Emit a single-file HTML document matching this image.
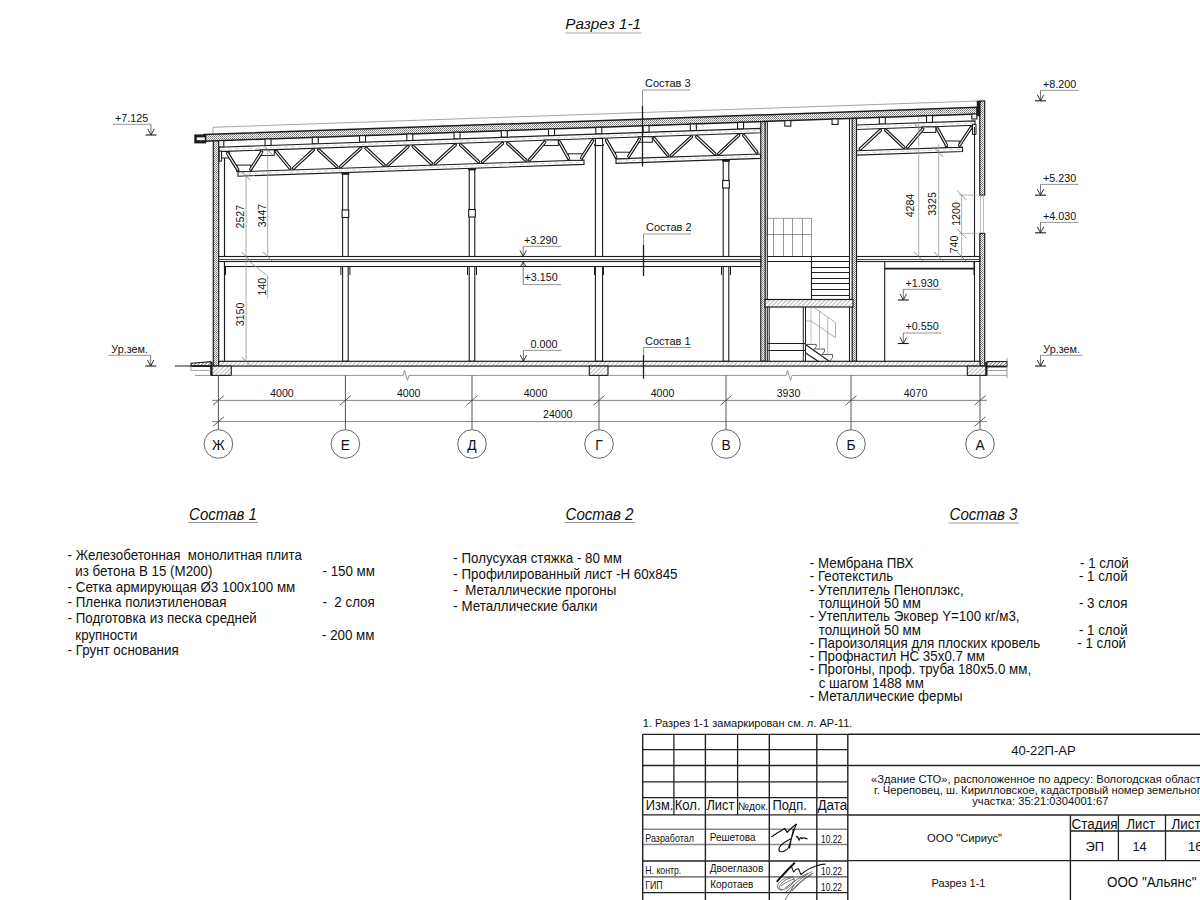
<!DOCTYPE html>
<html><head><meta charset="utf-8"><title>Разрез 1-1</title>
<style>html,body{margin:0;padding:0;background:#fff;} body{width:1200px;height:900px;overflow:hidden;font-family:"Liberation Sans",sans-serif;} svg{display:block;} svg text{font-family:"Liberation Sans",sans-serif;}</style>
</head><body><svg width="1200" height="900" viewBox="0 0 1200 900"  shape-rendering="geometricPrecision"><defs>
<pattern id="dots" width="2" height="2" patternUnits="userSpaceOnUse"><rect width="2" height="2" fill="#fff"/><rect width="1" height="1" fill="#777"/><rect x="1" y="1" width="1" height="1" fill="#999"/></pattern>
<pattern id="hatchd" width="2.5" height="2.5" patternUnits="userSpaceOnUse" patternTransform="rotate(45)"><rect width="2.5" height="2.5" fill="#fff"/><line x1="0" y1="0" x2="0" y2="2.5" stroke="#333" stroke-width="1.2"/></pattern>
<pattern id="hatch" width="3" height="3" patternUnits="userSpaceOnUse" patternTransform="rotate(45)"><rect width="3" height="3" fill="#fff"/><line x1="0" y1="0" x2="0" y2="3" stroke="#777" stroke-width="1"/></pattern>
</defs><text x="0" y="0" font-size="15.3" text-anchor="start" fill="#111" transform="translate(565.30,29.30) scale(1,1.0)" font-style="italic">Разрез 1-1</text>
<line x1="565.00" y1="33.00" x2="641.50" y2="33.00" stroke="#aaa" stroke-width="1.2" />
<line x1="213.00" y1="127.30" x2="977.00" y2="101.02" stroke="#999" stroke-width="0.9" />
<line x1="213.00" y1="127.30" x2="213.00" y2="134.29" stroke="#999" stroke-width="0.9" />
<polygon points="204.00,134.60 977.00,107.37 977.00,113.97 204.00,141.20" fill="url(#dots)" stroke="#1c1c1c" stroke-width="1.5" />
<rect x="194.30" y="134.40" width="12.00" height="9.00" fill="#1c1c1c" stroke="none" stroke-width="0" />
<rect x="196.80" y="137.40" width="8.00" height="2.80" fill="#fff" stroke="none" stroke-width="0" />
<rect x="217.80" y="140.61" width="6.00" height="6.51" fill="#fff" stroke="#1c1c1c" stroke-width="1.1" />
<rect x="265.05" y="138.95" width="6.00" height="6.54" fill="#fff" stroke="#1c1c1c" stroke-width="1.1" />
<rect x="312.30" y="137.28" width="6.00" height="6.56" fill="#fff" stroke="#1c1c1c" stroke-width="1.1" />
<rect x="359.55" y="135.62" width="6.00" height="6.58" fill="#fff" stroke="#1c1c1c" stroke-width="1.1" />
<rect x="406.80" y="133.95" width="6.00" height="6.61" fill="#fff" stroke="#1c1c1c" stroke-width="1.1" />
<rect x="454.05" y="132.29" width="6.00" height="6.63" fill="#fff" stroke="#1c1c1c" stroke-width="1.1" />
<rect x="501.30" y="130.63" width="6.00" height="6.65" fill="#fff" stroke="#1c1c1c" stroke-width="1.1" />
<rect x="548.55" y="128.96" width="6.00" height="6.68" fill="#fff" stroke="#1c1c1c" stroke-width="1.1" />
<rect x="595.80" y="127.30" width="6.00" height="6.70" fill="#fff" stroke="#1c1c1c" stroke-width="1.1" />
<rect x="643.05" y="125.63" width="6.00" height="6.72" fill="#fff" stroke="#1c1c1c" stroke-width="1.1" />
<rect x="690.30" y="123.97" width="6.00" height="6.75" fill="#fff" stroke="#1c1c1c" stroke-width="1.1" />
<rect x="737.55" y="122.30" width="6.00" height="6.77" fill="#fff" stroke="#1c1c1c" stroke-width="1.1" />
<rect x="784.80" y="120.64" width="6.00" height="5.50" fill="#fff" stroke="#1c1c1c" stroke-width="1.1" />
<rect x="832.05" y="118.97" width="6.00" height="5.50" fill="#fff" stroke="#1c1c1c" stroke-width="1.1" />
<rect x="879.30" y="117.31" width="6.00" height="6.84" fill="#fff" stroke="#1c1c1c" stroke-width="1.1" />
<rect x="926.55" y="115.64" width="6.00" height="6.86" fill="#fff" stroke="#1c1c1c" stroke-width="1.1" />
<rect x="971.80" y="113.98" width="5.00" height="5.00" fill="#fff" stroke="#1c1c1c" stroke-width="1.1" />
<polygon points="219.00,147.19 760.50,128.38 760.50,132.78 219.00,151.59" fill="#fff" stroke="#1c1c1c" stroke-width="1.1" />
<line x1="221.00" y1="149.32" x2="758.50" y2="130.65" stroke="#bbb" stroke-width="0.6" stroke-dasharray="4 3"/>
<polygon points="856.50,125.04 975.00,120.93 975.00,125.33 856.50,129.44" fill="#fff" stroke="#1c1c1c" stroke-width="1.1" />
<line x1="858.50" y1="127.17" x2="973.00" y2="123.20" stroke="#bbb" stroke-width="0.6" stroke-dasharray="4 3"/>
<polygon points="238.00,171.78 584.00,160.01 584.00,164.41 238.00,176.18" fill="#fff" stroke="#1c1c1c" stroke-width="1.1" />
<line x1="240.00" y1="173.91" x2="582.00" y2="162.28" stroke="#bbb" stroke-width="0.6" stroke-dasharray="4 3"/>
<polygon points="616.00,158.92 760.50,154.01 760.50,158.41 616.00,163.32" fill="#fff" stroke="#1c1c1c" stroke-width="1.1" />
<line x1="618.00" y1="161.06" x2="758.50" y2="156.28" stroke="#bbb" stroke-width="0.6" stroke-dasharray="4 3"/>
<polygon points="856.50,150.75 962.50,147.14 962.50,151.54 856.50,155.15" fill="#fff" stroke="#1c1c1c" stroke-width="1.1" />
<line x1="858.50" y1="152.88" x2="960.50" y2="149.41" stroke="#bbb" stroke-width="0.6" stroke-dasharray="4 3"/>
<line x1="227.47" y1="153.42" x2="237.83" y2="169.71" stroke="#1c1c1c" stroke-width="3.1" stroke-linecap="round"/>
<line x1="227.47" y1="153.42" x2="237.83" y2="169.71" stroke="#f4f4f4" stroke-width="1.1" stroke-linecap="round"/>
<line x1="250.65" y1="169.29" x2="261.70" y2="152.16" stroke="#1c1c1c" stroke-width="3.1" stroke-linecap="round"/>
<line x1="250.65" y1="169.29" x2="261.70" y2="152.16" stroke="#f4f4f4" stroke-width="1.1" stroke-linecap="round"/>
<line x1="276.24" y1="151.56" x2="289.86" y2="168.11" stroke="#1c1c1c" stroke-width="3.1" stroke-linecap="round"/>
<line x1="276.24" y1="151.56" x2="289.86" y2="168.11" stroke="#f4f4f4" stroke-width="1.1" stroke-linecap="round"/>
<line x1="293.40" y1="168.27" x2="313.45" y2="149.93" stroke="#1c1c1c" stroke-width="3.1" stroke-linecap="round"/>
<line x1="293.40" y1="168.27" x2="313.45" y2="149.93" stroke="#f4f4f4" stroke-width="1.1" stroke-linecap="round"/>
<line x1="318.70" y1="149.87" x2="336.90" y2="166.72" stroke="#1c1c1c" stroke-width="3.1" stroke-linecap="round"/>
<line x1="318.70" y1="149.87" x2="336.90" y2="166.72" stroke="#f4f4f4" stroke-width="1.1" stroke-linecap="round"/>
<line x1="340.64" y1="166.66" x2="360.71" y2="148.29" stroke="#1c1c1c" stroke-width="3.1" stroke-linecap="round"/>
<line x1="340.64" y1="166.66" x2="360.71" y2="148.29" stroke="#f4f4f4" stroke-width="1.1" stroke-linecap="round"/>
<line x1="365.95" y1="148.23" x2="384.15" y2="165.12" stroke="#1c1c1c" stroke-width="3.1" stroke-linecap="round"/>
<line x1="365.95" y1="148.23" x2="384.15" y2="165.12" stroke="#f4f4f4" stroke-width="1.1" stroke-linecap="round"/>
<line x1="387.89" y1="165.05" x2="407.96" y2="146.65" stroke="#1c1c1c" stroke-width="3.1" stroke-linecap="round"/>
<line x1="387.89" y1="165.05" x2="407.96" y2="146.65" stroke="#f4f4f4" stroke-width="1.1" stroke-linecap="round"/>
<line x1="413.20" y1="146.59" x2="431.40" y2="163.51" stroke="#1c1c1c" stroke-width="3.1" stroke-linecap="round"/>
<line x1="413.20" y1="146.59" x2="431.40" y2="163.51" stroke="#f4f4f4" stroke-width="1.1" stroke-linecap="round"/>
<line x1="435.14" y1="163.44" x2="455.21" y2="145.01" stroke="#1c1c1c" stroke-width="3.1" stroke-linecap="round"/>
<line x1="435.14" y1="163.44" x2="455.21" y2="145.01" stroke="#f4f4f4" stroke-width="1.1" stroke-linecap="round"/>
<line x1="460.45" y1="144.95" x2="478.65" y2="161.90" stroke="#1c1c1c" stroke-width="3.1" stroke-linecap="round"/>
<line x1="460.45" y1="144.95" x2="478.65" y2="161.90" stroke="#f4f4f4" stroke-width="1.1" stroke-linecap="round"/>
<line x1="482.39" y1="161.84" x2="502.46" y2="143.37" stroke="#1c1c1c" stroke-width="3.1" stroke-linecap="round"/>
<line x1="482.39" y1="161.84" x2="502.46" y2="143.37" stroke="#f4f4f4" stroke-width="1.1" stroke-linecap="round"/>
<line x1="507.69" y1="143.31" x2="525.91" y2="160.29" stroke="#1c1c1c" stroke-width="3.1" stroke-linecap="round"/>
<line x1="507.69" y1="143.31" x2="525.91" y2="160.29" stroke="#f4f4f4" stroke-width="1.1" stroke-linecap="round"/>
<line x1="529.43" y1="160.03" x2="544.92" y2="142.10" stroke="#1c1c1c" stroke-width="3.1" stroke-linecap="round"/>
<line x1="529.43" y1="160.03" x2="544.92" y2="142.10" stroke="#f4f4f4" stroke-width="1.1" stroke-linecap="round"/>
<line x1="559.42" y1="141.95" x2="568.68" y2="158.39" stroke="#1c1c1c" stroke-width="3.1" stroke-linecap="round"/>
<line x1="559.42" y1="141.95" x2="568.68" y2="158.39" stroke="#f4f4f4" stroke-width="1.1" stroke-linecap="round"/>
<line x1="581.41" y1="158.05" x2="592.64" y2="140.66" stroke="#1c1c1c" stroke-width="3.1" stroke-linecap="round"/>
<line x1="581.41" y1="158.05" x2="592.64" y2="140.66" stroke="#f4f4f4" stroke-width="1.1" stroke-linecap="round"/>
<line x1="606.39" y1="140.31" x2="615.91" y2="156.80" stroke="#1c1c1c" stroke-width="3.1" stroke-linecap="round"/>
<line x1="606.39" y1="140.31" x2="615.91" y2="156.80" stroke="#f4f4f4" stroke-width="1.1" stroke-linecap="round"/>
<line x1="628.64" y1="156.43" x2="639.71" y2="139.04" stroke="#1c1c1c" stroke-width="3.1" stroke-linecap="round"/>
<line x1="628.64" y1="156.43" x2="639.71" y2="139.04" stroke="#f4f4f4" stroke-width="1.1" stroke-linecap="round"/>
<line x1="654.22" y1="138.44" x2="667.88" y2="155.25" stroke="#1c1c1c" stroke-width="3.1" stroke-linecap="round"/>
<line x1="654.22" y1="138.44" x2="667.88" y2="155.25" stroke="#f4f4f4" stroke-width="1.1" stroke-linecap="round"/>
<line x1="671.38" y1="155.40" x2="691.47" y2="136.81" stroke="#1c1c1c" stroke-width="3.1" stroke-linecap="round"/>
<line x1="671.38" y1="155.40" x2="691.47" y2="136.81" stroke="#f4f4f4" stroke-width="1.1" stroke-linecap="round"/>
<line x1="696.69" y1="136.75" x2="714.91" y2="153.86" stroke="#1c1c1c" stroke-width="3.1" stroke-linecap="round"/>
<line x1="696.69" y1="136.75" x2="714.91" y2="153.86" stroke="#f4f4f4" stroke-width="1.1" stroke-linecap="round"/>
<line x1="718.63" y1="153.80" x2="738.72" y2="135.17" stroke="#1c1c1c" stroke-width="3.1" stroke-linecap="round"/>
<line x1="718.63" y1="153.80" x2="738.72" y2="135.17" stroke="#f4f4f4" stroke-width="1.1" stroke-linecap="round"/>
<line x1="743.69" y1="135.36" x2="756.86" y2="152.19" stroke="#1c1c1c" stroke-width="3.1" stroke-linecap="round"/>
<line x1="743.69" y1="135.36" x2="756.86" y2="152.19" stroke="#f4f4f4" stroke-width="1.1" stroke-linecap="round"/>
<line x1="860.33" y1="148.98" x2="880.47" y2="130.25" stroke="#1c1c1c" stroke-width="3.1" stroke-linecap="round"/>
<line x1="860.33" y1="148.98" x2="880.47" y2="130.25" stroke="#f4f4f4" stroke-width="1.1" stroke-linecap="round"/>
<line x1="885.68" y1="130.19" x2="903.92" y2="147.43" stroke="#1c1c1c" stroke-width="3.1" stroke-linecap="round"/>
<line x1="885.68" y1="130.19" x2="903.92" y2="147.43" stroke="#f4f4f4" stroke-width="1.1" stroke-linecap="round"/>
<line x1="907.42" y1="147.17" x2="922.93" y2="128.98" stroke="#1c1c1c" stroke-width="3.1" stroke-linecap="round"/>
<line x1="907.42" y1="147.17" x2="922.93" y2="128.98" stroke="#f4f4f4" stroke-width="1.1" stroke-linecap="round"/>
<line x1="937.41" y1="128.83" x2="946.69" y2="145.53" stroke="#1c1c1c" stroke-width="3.1" stroke-linecap="round"/>
<line x1="937.41" y1="128.83" x2="946.69" y2="145.53" stroke="#f4f4f4" stroke-width="1.1" stroke-linecap="round"/>
<line x1="959.43" y1="145.21" x2="971.12" y2="127.50" stroke="#1c1c1c" stroke-width="3.1" stroke-linecap="round"/>
<line x1="959.43" y1="145.21" x2="971.12" y2="127.50" stroke="#f4f4f4" stroke-width="1.1" stroke-linecap="round"/>
<rect x="236.80" y="165.08" width="14.00" height="6.50" fill="#fff" stroke="#1c1c1c" stroke-width="1.0" />
<rect x="260.30" y="149.91" width="14.00" height="5.50" fill="#fff" stroke="#1c1c1c" stroke-width="1.0" />
<rect x="544.30" y="140.05" width="14.00" height="5.50" fill="#fff" stroke="#1c1c1c" stroke-width="1.0" />
<rect x="568.30" y="153.81" width="14.00" height="6.50" fill="#fff" stroke="#1c1c1c" stroke-width="1.0" />
<rect x="615.30" y="152.21" width="14.00" height="6.50" fill="#fff" stroke="#1c1c1c" stroke-width="1.0" />
<rect x="638.30" y="136.78" width="14.00" height="5.50" fill="#fff" stroke="#1c1c1c" stroke-width="1.0" />
<rect x="921.80" y="126.93" width="14.00" height="5.50" fill="#fff" stroke="#1c1c1c" stroke-width="1.0" />
<rect x="945.30" y="140.99" width="14.00" height="6.50" fill="#fff" stroke="#1c1c1c" stroke-width="1.0" />
<line x1="227.47" y1="153.42" x2="237.83" y2="169.71" stroke="#1c1c1c" stroke-width="3.1" stroke-linecap="round"/>
<line x1="227.47" y1="153.42" x2="237.83" y2="169.71" stroke="#f4f4f4" stroke-width="1.1" stroke-linecap="round"/>
<line x1="250.65" y1="169.29" x2="261.70" y2="152.16" stroke="#1c1c1c" stroke-width="3.1" stroke-linecap="round"/>
<line x1="250.65" y1="169.29" x2="261.70" y2="152.16" stroke="#f4f4f4" stroke-width="1.1" stroke-linecap="round"/>
<line x1="276.24" y1="151.56" x2="289.86" y2="168.11" stroke="#1c1c1c" stroke-width="3.1" stroke-linecap="round"/>
<line x1="276.24" y1="151.56" x2="289.86" y2="168.11" stroke="#f4f4f4" stroke-width="1.1" stroke-linecap="round"/>
<line x1="293.40" y1="168.27" x2="313.45" y2="149.93" stroke="#1c1c1c" stroke-width="3.1" stroke-linecap="round"/>
<line x1="293.40" y1="168.27" x2="313.45" y2="149.93" stroke="#f4f4f4" stroke-width="1.1" stroke-linecap="round"/>
<line x1="318.70" y1="149.87" x2="336.90" y2="166.72" stroke="#1c1c1c" stroke-width="3.1" stroke-linecap="round"/>
<line x1="318.70" y1="149.87" x2="336.90" y2="166.72" stroke="#f4f4f4" stroke-width="1.1" stroke-linecap="round"/>
<line x1="340.64" y1="166.66" x2="360.71" y2="148.29" stroke="#1c1c1c" stroke-width="3.1" stroke-linecap="round"/>
<line x1="340.64" y1="166.66" x2="360.71" y2="148.29" stroke="#f4f4f4" stroke-width="1.1" stroke-linecap="round"/>
<line x1="365.95" y1="148.23" x2="384.15" y2="165.12" stroke="#1c1c1c" stroke-width="3.1" stroke-linecap="round"/>
<line x1="365.95" y1="148.23" x2="384.15" y2="165.12" stroke="#f4f4f4" stroke-width="1.1" stroke-linecap="round"/>
<line x1="387.89" y1="165.05" x2="407.96" y2="146.65" stroke="#1c1c1c" stroke-width="3.1" stroke-linecap="round"/>
<line x1="387.89" y1="165.05" x2="407.96" y2="146.65" stroke="#f4f4f4" stroke-width="1.1" stroke-linecap="round"/>
<line x1="413.20" y1="146.59" x2="431.40" y2="163.51" stroke="#1c1c1c" stroke-width="3.1" stroke-linecap="round"/>
<line x1="413.20" y1="146.59" x2="431.40" y2="163.51" stroke="#f4f4f4" stroke-width="1.1" stroke-linecap="round"/>
<line x1="435.14" y1="163.44" x2="455.21" y2="145.01" stroke="#1c1c1c" stroke-width="3.1" stroke-linecap="round"/>
<line x1="435.14" y1="163.44" x2="455.21" y2="145.01" stroke="#f4f4f4" stroke-width="1.1" stroke-linecap="round"/>
<line x1="460.45" y1="144.95" x2="478.65" y2="161.90" stroke="#1c1c1c" stroke-width="3.1" stroke-linecap="round"/>
<line x1="460.45" y1="144.95" x2="478.65" y2="161.90" stroke="#f4f4f4" stroke-width="1.1" stroke-linecap="round"/>
<line x1="482.39" y1="161.84" x2="502.46" y2="143.37" stroke="#1c1c1c" stroke-width="3.1" stroke-linecap="round"/>
<line x1="482.39" y1="161.84" x2="502.46" y2="143.37" stroke="#f4f4f4" stroke-width="1.1" stroke-linecap="round"/>
<line x1="507.69" y1="143.31" x2="525.91" y2="160.29" stroke="#1c1c1c" stroke-width="3.1" stroke-linecap="round"/>
<line x1="507.69" y1="143.31" x2="525.91" y2="160.29" stroke="#f4f4f4" stroke-width="1.1" stroke-linecap="round"/>
<line x1="529.43" y1="160.03" x2="544.92" y2="142.10" stroke="#1c1c1c" stroke-width="3.1" stroke-linecap="round"/>
<line x1="529.43" y1="160.03" x2="544.92" y2="142.10" stroke="#f4f4f4" stroke-width="1.1" stroke-linecap="round"/>
<line x1="559.42" y1="141.95" x2="568.68" y2="158.39" stroke="#1c1c1c" stroke-width="3.1" stroke-linecap="round"/>
<line x1="559.42" y1="141.95" x2="568.68" y2="158.39" stroke="#f4f4f4" stroke-width="1.1" stroke-linecap="round"/>
<line x1="581.41" y1="158.05" x2="592.64" y2="140.66" stroke="#1c1c1c" stroke-width="3.1" stroke-linecap="round"/>
<line x1="581.41" y1="158.05" x2="592.64" y2="140.66" stroke="#f4f4f4" stroke-width="1.1" stroke-linecap="round"/>
<line x1="606.39" y1="140.31" x2="615.91" y2="156.80" stroke="#1c1c1c" stroke-width="3.1" stroke-linecap="round"/>
<line x1="606.39" y1="140.31" x2="615.91" y2="156.80" stroke="#f4f4f4" stroke-width="1.1" stroke-linecap="round"/>
<line x1="628.64" y1="156.43" x2="639.71" y2="139.04" stroke="#1c1c1c" stroke-width="3.1" stroke-linecap="round"/>
<line x1="628.64" y1="156.43" x2="639.71" y2="139.04" stroke="#f4f4f4" stroke-width="1.1" stroke-linecap="round"/>
<line x1="654.22" y1="138.44" x2="667.88" y2="155.25" stroke="#1c1c1c" stroke-width="3.1" stroke-linecap="round"/>
<line x1="654.22" y1="138.44" x2="667.88" y2="155.25" stroke="#f4f4f4" stroke-width="1.1" stroke-linecap="round"/>
<line x1="671.38" y1="155.40" x2="691.47" y2="136.81" stroke="#1c1c1c" stroke-width="3.1" stroke-linecap="round"/>
<line x1="671.38" y1="155.40" x2="691.47" y2="136.81" stroke="#f4f4f4" stroke-width="1.1" stroke-linecap="round"/>
<line x1="696.69" y1="136.75" x2="714.91" y2="153.86" stroke="#1c1c1c" stroke-width="3.1" stroke-linecap="round"/>
<line x1="696.69" y1="136.75" x2="714.91" y2="153.86" stroke="#f4f4f4" stroke-width="1.1" stroke-linecap="round"/>
<line x1="718.63" y1="153.80" x2="738.72" y2="135.17" stroke="#1c1c1c" stroke-width="3.1" stroke-linecap="round"/>
<line x1="718.63" y1="153.80" x2="738.72" y2="135.17" stroke="#f4f4f4" stroke-width="1.1" stroke-linecap="round"/>
<line x1="743.69" y1="135.36" x2="756.86" y2="152.19" stroke="#1c1c1c" stroke-width="3.1" stroke-linecap="round"/>
<line x1="743.69" y1="135.36" x2="756.86" y2="152.19" stroke="#f4f4f4" stroke-width="1.1" stroke-linecap="round"/>
<line x1="860.33" y1="148.98" x2="880.47" y2="130.25" stroke="#1c1c1c" stroke-width="3.1" stroke-linecap="round"/>
<line x1="860.33" y1="148.98" x2="880.47" y2="130.25" stroke="#f4f4f4" stroke-width="1.1" stroke-linecap="round"/>
<line x1="885.68" y1="130.19" x2="903.92" y2="147.43" stroke="#1c1c1c" stroke-width="3.1" stroke-linecap="round"/>
<line x1="885.68" y1="130.19" x2="903.92" y2="147.43" stroke="#f4f4f4" stroke-width="1.1" stroke-linecap="round"/>
<line x1="907.42" y1="147.17" x2="922.93" y2="128.98" stroke="#1c1c1c" stroke-width="3.1" stroke-linecap="round"/>
<line x1="907.42" y1="147.17" x2="922.93" y2="128.98" stroke="#f4f4f4" stroke-width="1.1" stroke-linecap="round"/>
<line x1="937.41" y1="128.83" x2="946.69" y2="145.53" stroke="#1c1c1c" stroke-width="3.1" stroke-linecap="round"/>
<line x1="937.41" y1="128.83" x2="946.69" y2="145.53" stroke="#f4f4f4" stroke-width="1.1" stroke-linecap="round"/>
<line x1="959.43" y1="145.21" x2="971.12" y2="127.50" stroke="#1c1c1c" stroke-width="3.1" stroke-linecap="round"/>
<line x1="959.43" y1="145.21" x2="971.12" y2="127.50" stroke="#f4f4f4" stroke-width="1.1" stroke-linecap="round"/>
<rect x="219.20" y="151.09" width="2.40" height="10.00" fill="#fff" stroke="#1c1c1c" stroke-width="1.0" />
<rect x="221.60" y="151.49" width="7.60" height="6.50" fill="#fff" stroke="#1c1c1c" stroke-width="1.0" />
<line x1="227.47" y1="153.42" x2="237.83" y2="169.71" stroke="#1c1c1c" stroke-width="3.1" stroke-linecap="round"/>
<line x1="227.47" y1="153.42" x2="237.83" y2="169.71" stroke="#f4f4f4" stroke-width="1.1" stroke-linecap="round"/>
<rect x="972.50" y="124.41" width="3.50" height="10.00" fill="#fff" stroke="#1c1c1c" stroke-width="1.0" />
<rect x="213.30" y="140.89" width="5.40" height="225.11" fill="url(#dots)" stroke="#1c1c1c" stroke-width="1.2" />
<line x1="224.50" y1="158.00" x2="224.50" y2="361.30" stroke="#1c1c1c" stroke-width="1.2" />
<rect x="979.80" y="101.00" width="4.90" height="94.10" fill="url(#dots)" stroke="#1c1c1c" stroke-width="1.2" />
<rect x="979.80" y="233.40" width="4.90" height="132.60" fill="url(#dots)" stroke="#1c1c1c" stroke-width="1.2" />
<rect x="977.00" y="101.00" width="3.00" height="15.00" fill="#1c1c1c" stroke="#1c1c1c" stroke-width="0.5" />
<line x1="974.50" y1="127.00" x2="974.50" y2="361.30" stroke="#1c1c1c" stroke-width="1.1" />
<line x1="980.50" y1="195.00" x2="980.50" y2="233.30" stroke="#aaa" stroke-width="0.8" />
<line x1="983.50" y1="195.00" x2="983.50" y2="233.30" stroke="#aaa" stroke-width="0.8" />
<rect x="760.80" y="121.62" width="4.40" height="239.68" fill="url(#dots)" stroke="#1c1c1c" stroke-width="1.2" />
<line x1="767.30" y1="121.37" x2="767.30" y2="361.30" stroke="#1c1c1c" stroke-width="1.1" />
<rect x="852.20" y="118.38" width="4.30" height="242.92" fill="url(#dots)" stroke="#1c1c1c" stroke-width="1.2" />
<line x1="849.50" y1="118.48" x2="849.50" y2="361.30" stroke="#1c1c1c" stroke-width="1.1" />
<rect x="342.60" y="174.04" width="5.60" height="187.26" fill="#fff" stroke="#1c1c1c" stroke-width="1.1" />
<rect x="341.40" y="172.54" width="8.00" height="2.00" fill="#1c1c1c" stroke="none" stroke-width="0" />
<rect x="342.10" y="210.00" width="6.60" height="7.50" fill="#fff" stroke="#1c1c1c" stroke-width="1.1" />
<rect x="469.20" y="169.72" width="5.60" height="191.58" fill="#fff" stroke="#1c1c1c" stroke-width="1.1" />
<rect x="468.00" y="168.22" width="8.00" height="2.00" fill="#1c1c1c" stroke="none" stroke-width="0" />
<rect x="468.70" y="209.50" width="6.60" height="7.50" fill="#fff" stroke="#1c1c1c" stroke-width="1.1" />
<rect x="595.40" y="145.50" width="7.20" height="215.80" fill="#fff" stroke="#1c1c1c" stroke-width="1.1" />
<rect x="594.20" y="144.00" width="9.60" height="2.00" fill="#1c1c1c" stroke="none" stroke-width="0" />
<rect x="595.40" y="138.39" width="7.20" height="7.11" fill="#fff" stroke="#1c1c1c" stroke-width="1.1" />
<rect x="723.20" y="161.08" width="5.60" height="200.22" fill="#fff" stroke="#1c1c1c" stroke-width="1.1" />
<rect x="722.00" y="159.58" width="8.00" height="2.00" fill="#1c1c1c" stroke="none" stroke-width="0" />
<rect x="722.70" y="180.50" width="6.60" height="7.50" fill="#fff" stroke="#1c1c1c" stroke-width="1.1" />
<rect x="218.70" y="256.50" width="542.10" height="5.00" fill="#fff" stroke="#1c1c1c" stroke-width="1.1" />
<line x1="218.70" y1="259.50" x2="760.80" y2="259.50" stroke="#333" stroke-width="0.9" />
<rect x="224.50" y="261.50" width="536.30" height="5.00" fill="#fff" stroke="#1c1c1c" stroke-width="1.1" />
<rect x="856.50" y="256.50" width="123.30" height="5.00" fill="#fff" stroke="#1c1c1c" stroke-width="1.1" />
<line x1="856.50" y1="259.50" x2="979.80" y2="259.50" stroke="#333" stroke-width="0.9" />
<line x1="767.30" y1="256.50" x2="849.50" y2="256.50" stroke="#1c1c1c" stroke-width="1.1" />
<line x1="767.30" y1="261.50" x2="811.50" y2="261.50" stroke="#1c1c1c" stroke-width="1.1" />
<line x1="340.90" y1="266.50" x2="340.90" y2="275.00" stroke="#1c1c1c" stroke-width="1.0" />
<line x1="349.90" y1="266.50" x2="349.90" y2="275.00" stroke="#1c1c1c" stroke-width="1.0" />
<line x1="467.50" y1="266.50" x2="467.50" y2="275.00" stroke="#1c1c1c" stroke-width="1.0" />
<line x1="476.50" y1="266.50" x2="476.50" y2="275.00" stroke="#1c1c1c" stroke-width="1.0" />
<line x1="594.50" y1="266.50" x2="594.50" y2="275.00" stroke="#1c1c1c" stroke-width="1.0" />
<line x1="603.50" y1="266.50" x2="603.50" y2="275.00" stroke="#1c1c1c" stroke-width="1.0" />
<line x1="721.50" y1="266.50" x2="721.50" y2="275.00" stroke="#1c1c1c" stroke-width="1.0" />
<line x1="730.50" y1="266.50" x2="730.50" y2="275.00" stroke="#1c1c1c" stroke-width="1.0" />
<line x1="225.50" y1="266.50" x2="225.50" y2="275.00" stroke="#1c1c1c" stroke-width="1.0" />
<rect x="218.70" y="361.30" width="761.30" height="4.80" fill="url(#hatch)" stroke="#1c1c1c" stroke-width="1.2" />
<rect x="211.00" y="366.10" width="20.30" height="9.30" fill="url(#hatch)" stroke="#1c1c1c" stroke-width="1.1" />
<line x1="211.50" y1="362.00" x2="211.50" y2="375.40" stroke="#1c1c1c" stroke-width="2.2" />
<rect x="589.30" y="366.10" width="18.70" height="9.30" fill="url(#hatch)" stroke="#1c1c1c" stroke-width="1.1" />
<rect x="967.30" y="366.10" width="19.40" height="9.30" fill="url(#hatch)" stroke="#1c1c1c" stroke-width="1.1" />
<line x1="986.30" y1="362.00" x2="986.30" y2="375.40" stroke="#1c1c1c" stroke-width="2.2" />
<polygon points="191.00,363.20 211.00,361.60 211.00,366.50 191.00,366.50" fill="url(#hatchd)" stroke="#1c1c1c" stroke-width="1.1" />
<line x1="191.00" y1="366.00" x2="211.00" y2="366.00" stroke="#1c1c1c" stroke-width="1.8" />
<line x1="191.00" y1="370.40" x2="211.00" y2="370.40" stroke="#8a8a8a" stroke-width="0.8" />
<line x1="191.00" y1="366.00" x2="191.00" y2="370.40" stroke="#8a8a8a" stroke-width="0.8" />
<line x1="175.00" y1="366.00" x2="191.00" y2="366.00" stroke="#1c1c1c" stroke-width="1.0" />
<rect x="987.00" y="361.50" width="20.00" height="5.00" fill="url(#hatchd)" stroke="#1c1c1c" stroke-width="1.1" />
<line x1="987.00" y1="366.50" x2="1007.00" y2="366.50" stroke="#1c1c1c" stroke-width="1.8" />
<line x1="987.00" y1="370.50" x2="1007.00" y2="370.50" stroke="#8a8a8a" stroke-width="0.8" />
<line x1="1007.00" y1="358.00" x2="1007.00" y2="378.00" stroke="#8a8a8a" stroke-width="0.8" />
<polyline points="195.00,375.40 211.00,375.40" fill="none" stroke="#8a8a8a" stroke-width="0.9" />
<polyline points="231.30,375.40 403.00,375.40 404.50,370.40 407.50,380.40 409.00,375.40 589.30,375.40" fill="none" stroke="#8a8a8a" stroke-width="0.9" />
<polyline points="608.00,375.40 786.00,375.40 787.50,370.40 790.50,380.40 792.00,375.40 967.30,375.40" fill="none" stroke="#8a8a8a" stroke-width="0.9" />
<line x1="986.70" y1="375.40" x2="1007.00" y2="375.40" stroke="#8a8a8a" stroke-width="0.8" />
<line x1="767.30" y1="218.30" x2="767.30" y2="256.50" stroke="#555" stroke-width="0.6" />
<line x1="773.50" y1="218.30" x2="773.50" y2="256.50" stroke="#555" stroke-width="0.6" />
<line x1="783.50" y1="218.30" x2="783.50" y2="256.50" stroke="#555" stroke-width="0.6" />
<line x1="792.50" y1="218.30" x2="792.50" y2="256.50" stroke="#555" stroke-width="0.6" />
<line x1="802.50" y1="218.30" x2="802.50" y2="256.50" stroke="#555" stroke-width="0.6" />
<line x1="811.50" y1="218.30" x2="811.50" y2="256.50" stroke="#555" stroke-width="0.6" />
<line x1="765.00" y1="218.30" x2="811.50" y2="218.30" stroke="#555" stroke-width="0.6" />
<line x1="765.00" y1="234.50" x2="811.50" y2="234.50" stroke="#555" stroke-width="0.6" />
<line x1="811.50" y1="256.50" x2="811.50" y2="299.50" stroke="#1c1c1c" stroke-width="1.1" />
<line x1="811.50" y1="261.50" x2="849.50" y2="261.50" stroke="#1c1c1c" stroke-width="1.1" />
<line x1="811.50" y1="267.50" x2="849.50" y2="267.50" stroke="#1c1c1c" stroke-width="1.1" />
<line x1="811.50" y1="272.50" x2="849.50" y2="272.50" stroke="#1c1c1c" stroke-width="1.1" />
<line x1="811.50" y1="278.50" x2="849.50" y2="278.50" stroke="#1c1c1c" stroke-width="1.1" />
<line x1="811.50" y1="283.50" x2="849.50" y2="283.50" stroke="#1c1c1c" stroke-width="1.1" />
<line x1="811.50" y1="289.50" x2="849.50" y2="289.50" stroke="#1c1c1c" stroke-width="1.1" />
<line x1="811.50" y1="295.50" x2="849.50" y2="295.50" stroke="#1c1c1c" stroke-width="1.1" />
<rect x="765.00" y="299.50" width="88.00" height="7.50" fill="url(#hatch)" stroke="#1c1c1c" stroke-width="1.2" />
<line x1="769.20" y1="307.00" x2="769.20" y2="361.30" stroke="#1c1c1c" stroke-width="1.0" />
<line x1="805.50" y1="307.00" x2="805.50" y2="343.50" stroke="#1c1c1c" stroke-width="1.0" />
<line x1="767.30" y1="343.50" x2="805.50" y2="343.50" stroke="#1c1c1c" stroke-width="1.1" />
<line x1="767.30" y1="350.50" x2="805.50" y2="350.50" stroke="#1c1c1c" stroke-width="1.1" />
<line x1="803.30" y1="307.00" x2="803.30" y2="361.30" stroke="#1c1c1c" stroke-width="1.0" />
<line x1="805.50" y1="343.50" x2="805.50" y2="361.30" stroke="#1c1c1c" stroke-width="1.0" />
<line x1="805.50" y1="344.40" x2="829.20" y2="361.30" stroke="#1c1c1c" stroke-width="1.2" />
<line x1="805.50" y1="352.90" x2="818.30" y2="361.30" stroke="#1c1c1c" stroke-width="1.2" />
<path d="M805.5,344.4 H816.2 Q817.4,346.5 814,349 H824.4 Q825.6,351.5 822,354.5 H832.6 Q833.8,357.5 830,361" fill="none" stroke="#333" stroke-width="0.8"/>
<line x1="811.00" y1="308.00" x2="811.00" y2="343.50" stroke="#c4c4c4" stroke-width="1.1" />
<polyline points="806.30,321.00 811.00,321.00 835.50,337.70 835.50,322.60 814.50,307.80" fill="none" stroke="#777" stroke-width="0.6" />
<line x1="819.50" y1="311.00" x2="819.50" y2="349.00" stroke="#888" stroke-width="0.6" />
<line x1="827.70" y1="318.00" x2="827.70" y2="354.50" stroke="#888" stroke-width="0.6" />
<line x1="884.70" y1="262.00" x2="884.70" y2="361.30" stroke="#1c1c1c" stroke-width="1.1" />
<line x1="884.70" y1="268.70" x2="974.50" y2="268.70" stroke="#1c1c1c" stroke-width="1.8" />
<line x1="974.00" y1="262.00" x2="974.00" y2="275.00" stroke="#1c1c1c" stroke-width="1.0" />
<line x1="212.00" y1="400.40" x2="987.00" y2="400.40" stroke="#666" stroke-width="0.8" />
<line x1="212.00" y1="421.60" x2="987.00" y2="421.60" stroke="#666" stroke-width="0.8" />
<line x1="218.40" y1="375.40" x2="218.40" y2="429.60" stroke="#444" stroke-width="0.9" />
<circle cx="218.40" cy="444" r="14.3" fill="#fff" stroke="#555" stroke-width="0.9"/>
<text x="0" y="0" font-size="13.8" text-anchor="middle" fill="#111" transform="translate(218.40,449.60) scale(1,1.0)" >Ж</text>
<line x1="212.90" y1="405.20" x2="223.90" y2="395.60" stroke="#444" stroke-width="0.9" />
<line x1="345.40" y1="375.40" x2="345.40" y2="429.60" stroke="#444" stroke-width="0.9" />
<circle cx="345.40" cy="444" r="14.3" fill="#fff" stroke="#555" stroke-width="0.9"/>
<text x="0" y="0" font-size="13.8" text-anchor="middle" fill="#111" transform="translate(345.40,449.60) scale(1,1.0)" >Е</text>
<line x1="339.90" y1="405.20" x2="350.90" y2="395.60" stroke="#444" stroke-width="0.9" />
<line x1="472.00" y1="375.40" x2="472.00" y2="429.60" stroke="#444" stroke-width="0.9" />
<circle cx="472.00" cy="444" r="14.3" fill="#fff" stroke="#555" stroke-width="0.9"/>
<text x="0" y="0" font-size="13.8" text-anchor="middle" fill="#111" transform="translate(472.00,449.60) scale(1,1.0)" >Д</text>
<line x1="466.50" y1="405.20" x2="477.50" y2="395.60" stroke="#444" stroke-width="0.9" />
<line x1="599.00" y1="375.40" x2="599.00" y2="429.60" stroke="#444" stroke-width="0.9" />
<circle cx="599.00" cy="444" r="14.3" fill="#fff" stroke="#555" stroke-width="0.9"/>
<text x="0" y="0" font-size="13.8" text-anchor="middle" fill="#111" transform="translate(599.00,449.60) scale(1,1.0)" >Г</text>
<line x1="593.50" y1="405.20" x2="604.50" y2="395.60" stroke="#444" stroke-width="0.9" />
<line x1="726.00" y1="375.40" x2="726.00" y2="429.60" stroke="#444" stroke-width="0.9" />
<circle cx="726.00" cy="444" r="14.3" fill="#fff" stroke="#555" stroke-width="0.9"/>
<text x="0" y="0" font-size="13.8" text-anchor="middle" fill="#111" transform="translate(726.00,449.60) scale(1,1.0)" >В</text>
<line x1="720.50" y1="405.20" x2="731.50" y2="395.60" stroke="#444" stroke-width="0.9" />
<line x1="851.00" y1="375.40" x2="851.00" y2="429.60" stroke="#444" stroke-width="0.9" />
<circle cx="851.00" cy="444" r="14.3" fill="#fff" stroke="#555" stroke-width="0.9"/>
<text x="0" y="0" font-size="13.8" text-anchor="middle" fill="#111" transform="translate(851.00,449.60) scale(1,1.0)" >Б</text>
<line x1="845.50" y1="405.20" x2="856.50" y2="395.60" stroke="#444" stroke-width="0.9" />
<line x1="980.00" y1="375.40" x2="980.00" y2="429.60" stroke="#444" stroke-width="0.9" />
<circle cx="980.00" cy="444" r="14.3" fill="#fff" stroke="#555" stroke-width="0.9"/>
<text x="0" y="0" font-size="13.8" text-anchor="middle" fill="#111" transform="translate(980.00,449.60) scale(1,1.0)" >А</text>
<line x1="974.50" y1="405.20" x2="985.50" y2="395.60" stroke="#444" stroke-width="0.9" />
<line x1="212.90" y1="426.40" x2="223.90" y2="416.80" stroke="#444" stroke-width="0.9" />
<line x1="974.50" y1="426.40" x2="985.50" y2="416.80" stroke="#444" stroke-width="0.9" />
<text x="0" y="0" font-size="10.6" text-anchor="middle" fill="#111" transform="translate(281.90,397.40) scale(1,1.06)" >4000</text>
<text x="0" y="0" font-size="10.6" text-anchor="middle" fill="#111" transform="translate(408.70,397.40) scale(1,1.06)" >4000</text>
<text x="0" y="0" font-size="10.6" text-anchor="middle" fill="#111" transform="translate(535.50,397.40) scale(1,1.06)" >4000</text>
<text x="0" y="0" font-size="10.6" text-anchor="middle" fill="#111" transform="translate(662.50,397.40) scale(1,1.06)" >4000</text>
<text x="0" y="0" font-size="10.6" text-anchor="middle" fill="#111" transform="translate(788.50,397.40) scale(1,1.06)" >3930</text>
<text x="0" y="0" font-size="10.6" text-anchor="middle" fill="#111" transform="translate(915.50,397.40) scale(1,1.06)" >4070</text>
<text x="0" y="0" font-size="10.6" text-anchor="middle" fill="#111" transform="translate(557.70,418.00) scale(1,1.06)" >24000</text>
<line x1="246.10" y1="174.00" x2="246.10" y2="361.30" stroke="#999" stroke-width="0.8" />
<line x1="267.70" y1="148.00" x2="267.70" y2="256.50" stroke="#999" stroke-width="0.8" />
<line x1="241.60" y1="252.00" x2="250.60" y2="261.00" stroke="#777" stroke-width="0.8" />
<line x1="241.60" y1="356.80" x2="250.60" y2="365.80" stroke="#777" stroke-width="0.8" />
<line x1="241.60" y1="171.40" x2="250.60" y2="180.40" stroke="#777" stroke-width="0.8" />
<line x1="263.20" y1="252.00" x2="272.20" y2="261.00" stroke="#777" stroke-width="0.8" />
<line x1="263.20" y1="145.39" x2="272.20" y2="154.39" stroke="#777" stroke-width="0.8" />
<polyline points="246.10,259.00 267.70,276.00 267.70,299.00" fill="none" stroke="#999" stroke-width="0.8" />
<text x="0" y="0" font-size="10.6" text-anchor="middle" fill="#111" transform="translate(244.20,216.70) rotate(-90) translate(0,3.8) scale(1,1.06) translate(0,-3.8)">2527</text>
<text x="0" y="0" font-size="10.6" text-anchor="middle" fill="#111" transform="translate(265.80,215.60) rotate(-90) translate(0,3.8) scale(1,1.06) translate(0,-3.8)">3447</text>
<text x="0" y="0" font-size="10.6" text-anchor="middle" fill="#111" transform="translate(265.80,286.70) rotate(-90) translate(0,3.8) scale(1,1.06) translate(0,-3.8)">140</text>
<text x="0" y="0" font-size="10.6" text-anchor="middle" fill="#111" transform="translate(244.20,314.40) rotate(-90) translate(0,3.8) scale(1,1.06) translate(0,-3.8)">3150</text>
<line x1="918.70" y1="118.00" x2="918.70" y2="256.50" stroke="#999" stroke-width="0.8" />
<line x1="938.70" y1="144.30" x2="938.70" y2="256.50" stroke="#999" stroke-width="0.8" />
<line x1="961.60" y1="195.00" x2="961.60" y2="262.00" stroke="#999" stroke-width="0.7" />
<line x1="959.20" y1="195.10" x2="976.70" y2="195.10" stroke="#999" stroke-width="0.7" />
<line x1="959.20" y1="233.40" x2="976.70" y2="233.40" stroke="#999" stroke-width="0.7" />
<line x1="914.20" y1="252.00" x2="923.20" y2="261.00" stroke="#777" stroke-width="0.8" />
<line x1="934.20" y1="252.00" x2="943.20" y2="261.00" stroke="#777" stroke-width="0.8" />
<line x1="957.10" y1="252.00" x2="966.10" y2="261.00" stroke="#777" stroke-width="0.8" />
<line x1="957.10" y1="190.60" x2="966.10" y2="199.60" stroke="#777" stroke-width="0.8" />
<line x1="957.10" y1="228.90" x2="966.10" y2="237.90" stroke="#777" stroke-width="0.8" />
<line x1="914.20" y1="123.81" x2="923.20" y2="132.81" stroke="#777" stroke-width="0.8" />
<line x1="934.20" y1="147.88" x2="943.20" y2="156.88" stroke="#777" stroke-width="0.8" />
<text x="0" y="0" font-size="10.6" text-anchor="middle" fill="#111" transform="translate(914.30,205.60) rotate(-90) translate(0,3.8) scale(1,1.06) translate(0,-3.8)">4284</text>
<text x="0" y="0" font-size="10.6" text-anchor="middle" fill="#111" transform="translate(935.80,204.00) rotate(-90) translate(0,3.8) scale(1,1.06) translate(0,-3.8)">3325</text>
<text x="0" y="0" font-size="10.6" text-anchor="middle" fill="#111" transform="translate(959.90,214.00) rotate(-90) translate(0,3.8) scale(1,1.06) translate(0,-3.8)">1200</text>
<text x="0" y="0" font-size="10.6" text-anchor="middle" fill="#111" transform="translate(958.50,244.50) rotate(-90) translate(0,3.8) scale(1,1.06) translate(0,-3.8)">740</text>
<text x="0" y="0" font-size="11" text-anchor="start" fill="#111" transform="translate(645.00,87.00) scale(1,1.06)" >Состав 3</text>
<line x1="642.50" y1="90.00" x2="690.00" y2="90.00" stroke="#8a8a8a" stroke-width="0.9" />
<line x1="642.50" y1="90.00" x2="642.50" y2="106.00" stroke="#777" stroke-width="0.8" />
<line x1="642.50" y1="106.00" x2="642.50" y2="166.50" stroke="#1c1c1c" stroke-width="1.3" />
<text x="0" y="0" font-size="11" text-anchor="start" fill="#111" transform="translate(646.00,231.00) scale(1,1.06)" >Состав 2</text>
<line x1="643.50" y1="234.00" x2="691.00" y2="234.00" stroke="#8a8a8a" stroke-width="0.9" />
<line x1="643.50" y1="234.00" x2="643.50" y2="245.00" stroke="#777" stroke-width="0.8" />
<line x1="643.50" y1="245.00" x2="643.50" y2="276.00" stroke="#1c1c1c" stroke-width="1.3" />
<text x="0" y="0" font-size="11" text-anchor="start" fill="#111" transform="translate(645.00,344.50) scale(1,1.06)" >Состав 1</text>
<line x1="643.50" y1="347.50" x2="691.00" y2="347.50" stroke="#8a8a8a" stroke-width="0.9" />
<line x1="643.50" y1="347.50" x2="643.50" y2="355.00" stroke="#777" stroke-width="0.8" />
<line x1="643.50" y1="355.00" x2="643.50" y2="378.70" stroke="#1c1c1c" stroke-width="1.3" />
<text x="0" y="0" font-size="15.3" text-anchor="start" fill="#111" transform="translate(189.00,519.50) scale(1,1.06)" textLength="68.00" lengthAdjust="spacingAndGlyphs" font-style="italic">Состав 1</text>
<line x1="188.00" y1="522.50" x2="258.00" y2="522.50" stroke="#999" stroke-width="1.1" />
<text x="0" y="0" font-size="15.3" text-anchor="start" fill="#111" transform="translate(565.50,519.50) scale(1,1.06)" textLength="68.00" lengthAdjust="spacingAndGlyphs" font-style="italic">Состав 2</text>
<line x1="564.50" y1="522.50" x2="635.00" y2="522.50" stroke="#999" stroke-width="1.1" />
<text x="0" y="0" font-size="15.3" text-anchor="start" fill="#111" transform="translate(949.50,520.00) scale(1,1.06)" textLength="68.00" lengthAdjust="spacingAndGlyphs" font-style="italic">Состав 3</text>
<line x1="948.50" y1="523.00" x2="1019.00" y2="523.00" stroke="#999" stroke-width="1.1" />
<text x="0" y="0" font-size="13.35" text-anchor="start" fill="#111" transform="translate(67.60,560.00) scale(1,1.06)"  xml:space="preserve">- Железобетонная  монолитная плита</text>
<text x="0" y="0" font-size="13.35" text-anchor="start" fill="#111" transform="translate(75.30,576.00) scale(1,1.06)"  >из бетона В 15 (М200)</text>
<text x="0" y="0" font-size="13.35" text-anchor="start" fill="#111" transform="translate(67.60,591.60) scale(1,1.06)"  xml:space="preserve">- Сетка армирующая Ø3 100х100 мм</text>
<text x="0" y="0" font-size="13.35" text-anchor="start" fill="#111" transform="translate(67.60,607.00) scale(1,1.06)"  xml:space="preserve">- Пленка полиэтиленовая</text>
<text x="0" y="0" font-size="13.35" text-anchor="start" fill="#111" transform="translate(67.60,623.40) scale(1,1.06)"  xml:space="preserve">- Подготовка из песка средней</text>
<text x="0" y="0" font-size="13.35" text-anchor="start" fill="#111" transform="translate(75.30,639.60) scale(1,1.06)"  >крупности</text>
<text x="0" y="0" font-size="13.35" text-anchor="start" fill="#111" transform="translate(67.60,655.30) scale(1,1.06)"  xml:space="preserve">- Грунт основания</text>
<text x="0" y="0" font-size="13.35" text-anchor="start" fill="#111" transform="translate(322.50,576.00) scale(1,1.06)"  >- 150 мм</text>
<text x="0" y="0" font-size="13.35" text-anchor="start" fill="#111" transform="translate(322.50,607.00) scale(1,1.06)"  xml:space="preserve">-  2 слоя</text>
<text x="0" y="0" font-size="13.35" text-anchor="start" fill="#111" transform="translate(322.00,639.60) scale(1,1.06)"  >- 200 мм</text>
<text x="0" y="0" font-size="13.35" text-anchor="start" fill="#111" transform="translate(453.30,563.00) scale(1,1.06)"  xml:space="preserve">- Полусухая стяжка - 80 мм</text>
<text x="0" y="0" font-size="13.35" text-anchor="start" fill="#111" transform="translate(453.30,579.00) scale(1,1.06)"  xml:space="preserve">- Профилированный лист -Н 60х845</text>
<text x="0" y="0" font-size="13.35" text-anchor="start" fill="#111" transform="translate(453.30,595.00) scale(1,1.06)"  xml:space="preserve">-  Металлические прогоны</text>
<text x="0" y="0" font-size="13.35" text-anchor="start" fill="#111" transform="translate(453.30,611.00) scale(1,1.06)"  xml:space="preserve">- Металлические балки</text>
<text x="0" y="0" font-size="13.35" text-anchor="start" fill="#111" transform="translate(809.80,567.80) scale(1,1.06)"  >- Мембрана ПВХ</text>
<text x="0" y="0" font-size="13.35" text-anchor="start" fill="#111" transform="translate(809.80,581.40) scale(1,1.06)"  >- Геотекстиль</text>
<text x="0" y="0" font-size="13.35" text-anchor="start" fill="#111" transform="translate(809.80,594.60) scale(1,1.06)"  >- Утеплитель Пеноплэкс,</text>
<text x="0" y="0" font-size="13.35" text-anchor="start" fill="#111" transform="translate(818.70,607.90) scale(1,1.06)"  >толщиной 50 мм</text>
<text x="0" y="0" font-size="13.35" text-anchor="start" fill="#111" transform="translate(809.80,621.20) scale(1,1.06)"  >- Утеплитель Эковер Y=100 кг/м3,</text>
<text x="0" y="0" font-size="13.35" text-anchor="start" fill="#111" transform="translate(818.70,634.50) scale(1,1.06)"  >толщиной 50 мм</text>
<text x="0" y="0" font-size="13.35" text-anchor="start" fill="#111" transform="translate(809.80,647.80) scale(1,1.06)"  >- Пароизоляция для плоских кровель</text>
<text x="0" y="0" font-size="13.35" text-anchor="start" fill="#111" transform="translate(809.80,661.10) scale(1,1.06)"  >- Профнастил НС 35х0.7 мм</text>
<text x="0" y="0" font-size="13.35" text-anchor="start" fill="#111" transform="translate(809.80,674.40) scale(1,1.06)"  >- Прогоны, проф. труба 180х5.0 мм,</text>
<text x="0" y="0" font-size="13.35" text-anchor="start" fill="#111" transform="translate(818.70,687.80) scale(1,1.06)"  >с шагом 1488 мм</text>
<text x="0" y="0" font-size="13.35" text-anchor="start" fill="#111" transform="translate(809.80,701.10) scale(1,1.06)"  >- Металлические фермы</text>
<text x="0" y="0" font-size="13.35" text-anchor="start" fill="#111" transform="translate(1080.00,568.00) scale(1,1.06)"  >- 1 слой</text>
<text x="0" y="0" font-size="13.35" text-anchor="start" fill="#111" transform="translate(1078.90,581.40) scale(1,1.06)"  >- 1 слой</text>
<text x="0" y="0" font-size="13.35" text-anchor="start" fill="#111" transform="translate(1078.90,607.90) scale(1,1.06)"  >- 3 слоя</text>
<text x="0" y="0" font-size="13.35" text-anchor="start" fill="#111" transform="translate(1078.90,634.50) scale(1,1.06)"  >- 1 слой</text>
<text x="0" y="0" font-size="13.35" text-anchor="start" fill="#111" transform="translate(1077.30,647.80) scale(1,1.06)"  >- 1 слой</text>
<text x="0" y="0" font-size="11.05" text-anchor="start" fill="#111" transform="translate(642.70,727.00) scale(1,1.06)"  >1. Разрез 1-1 замаркирован см. л. АР-11.</text>
<line x1="642.70" y1="734.30" x2="847.80" y2="734.30" stroke="#222" stroke-width="1.3" />
<line x1="642.70" y1="749.70" x2="847.80" y2="749.70" stroke="#222" stroke-width="1.3" />
<line x1="642.70" y1="765.50" x2="847.80" y2="765.50" stroke="#222" stroke-width="1.3" />
<line x1="642.70" y1="781.80" x2="847.80" y2="781.80" stroke="#222" stroke-width="1.3" />
<line x1="642.70" y1="797.60" x2="847.80" y2="797.60" stroke="#222" stroke-width="1.3" />
<line x1="642.70" y1="814.90" x2="847.80" y2="814.90" stroke="#222" stroke-width="1.3" />
<line x1="642.70" y1="829.20" x2="847.80" y2="829.20" stroke="#888" stroke-width="1.5" />
<line x1="642.70" y1="844.50" x2="847.80" y2="844.50" stroke="#888" stroke-width="1.5" />
<line x1="642.70" y1="861.00" x2="847.80" y2="861.00" stroke="#222" stroke-width="1.3" />
<line x1="642.70" y1="876.80" x2="847.80" y2="876.80" stroke="#555" stroke-width="1.3" />
<line x1="642.70" y1="892.60" x2="847.80" y2="892.60" stroke="#222" stroke-width="1.3" />
<line x1="642.70" y1="734.30" x2="642.70" y2="900.00" stroke="#222" stroke-width="1.4" />
<line x1="705.40" y1="734.30" x2="705.40" y2="900.00" stroke="#222" stroke-width="1.4" />
<line x1="769.30" y1="734.30" x2="769.30" y2="900.00" stroke="#222" stroke-width="1.4" />
<line x1="816.80" y1="734.30" x2="816.80" y2="900.00" stroke="#222" stroke-width="1.4" />
<line x1="847.80" y1="734.30" x2="847.80" y2="900.00" stroke="#222" stroke-width="1.4" />
<line x1="673.90" y1="734.30" x2="673.90" y2="814.90" stroke="#222" stroke-width="1.3" />
<line x1="737.60" y1="734.30" x2="737.60" y2="814.90" stroke="#222" stroke-width="1.3" />
<line x1="847.80" y1="734.30" x2="1200.00" y2="734.30" stroke="#222" stroke-width="1.4" />
<line x1="847.80" y1="765.50" x2="1200.00" y2="765.50" stroke="#222" stroke-width="1.4" />
<line x1="847.80" y1="815.00" x2="1200.00" y2="815.00" stroke="#222" stroke-width="1.4" />
<line x1="847.80" y1="860.60" x2="1200.00" y2="860.60" stroke="#222" stroke-width="1.4" />
<line x1="1070.40" y1="815.00" x2="1070.40" y2="900.00" stroke="#222" stroke-width="1.4" />
<line x1="1118.40" y1="815.00" x2="1118.40" y2="860.60" stroke="#222" stroke-width="1.3" />
<line x1="1165.50" y1="815.00" x2="1165.50" y2="860.60" stroke="#222" stroke-width="1.3" />
<line x1="1070.40" y1="831.00" x2="1200.00" y2="831.00" stroke="#222" stroke-width="1.3" />
<text x="0" y="0" font-size="13.8" text-anchor="start" fill="#111" transform="translate(645.80,810.20) scale(1,1.0)" textLength="27.50" lengthAdjust="spacingAndGlyphs" >Изм.</text>
<text x="0" y="0" font-size="13.8" text-anchor="start" fill="#111" transform="translate(674.70,810.20) scale(1,1.0)" textLength="26.00" lengthAdjust="spacingAndGlyphs" >Кол.</text>
<text x="0" y="0" font-size="13.8" text-anchor="start" fill="#111" transform="translate(706.40,810.20) scale(1,1.0)" textLength="28.00" lengthAdjust="spacingAndGlyphs" >Лист</text>
<text x="0" y="0" font-size="11" text-anchor="start" fill="#111" transform="translate(738.00,810.20) scale(1,1.0)" textLength="30.20" lengthAdjust="spacingAndGlyphs" >№док.</text>
<text x="0" y="0" font-size="13.8" text-anchor="start" fill="#111" transform="translate(772.40,810.20) scale(1,1.0)" textLength="34.40" lengthAdjust="spacingAndGlyphs" >Подп.</text>
<text x="0" y="0" font-size="13.8" text-anchor="start" fill="#111" transform="translate(817.40,810.20) scale(1,1.0)" textLength="29.90" lengthAdjust="spacingAndGlyphs" >Дата</text>
<text x="0" y="0" font-size="10.8" text-anchor="start" fill="#111" transform="translate(645.20,841.90) scale(1,1.0)" textLength="48.80" lengthAdjust="spacingAndGlyphs" >Разработал</text>
<text x="0" y="0" font-size="10.8" text-anchor="start" fill="#111" transform="translate(709.70,840.80) scale(1,1.0)" textLength="45.80" lengthAdjust="spacingAndGlyphs" >Решетова</text>
<text x="0" y="0" font-size="10.8" text-anchor="start" fill="#111" transform="translate(821.00,843.00) scale(1,1.0)" textLength="21.00" lengthAdjust="spacingAndGlyphs" >10.22</text>
<text x="0" y="0" font-size="10.8" text-anchor="start" fill="#111" transform="translate(645.20,873.50) scale(1,1.0)" textLength="36.10" lengthAdjust="spacingAndGlyphs" >Н. контр.</text>
<text x="0" y="0" font-size="10.8" text-anchor="start" fill="#111" transform="translate(709.70,872.40) scale(1,1.0)" textLength="53.60" lengthAdjust="spacingAndGlyphs" >Двоеглазов</text>
<text x="0" y="0" font-size="10.8" text-anchor="start" fill="#111" transform="translate(821.00,874.60) scale(1,1.0)" textLength="21.00" lengthAdjust="spacingAndGlyphs" >10.22</text>
<text x="0" y="0" font-size="10.8" text-anchor="start" fill="#111" transform="translate(645.20,889.30) scale(1,1.0)" textLength="17.50" lengthAdjust="spacingAndGlyphs" >ГИП</text>
<text x="0" y="0" font-size="10.8" text-anchor="start" fill="#111" transform="translate(710.20,888.30) scale(1,1.0)" textLength="43.20" lengthAdjust="spacingAndGlyphs" >Коротаев</text>
<text x="0" y="0" font-size="10.8" text-anchor="start" fill="#111" transform="translate(821.00,891.00) scale(1,1.0)" textLength="21.00" lengthAdjust="spacingAndGlyphs" >10.22</text>
<text x="0" y="0" font-size="13.05" text-anchor="middle" fill="#111" transform="translate(1043.40,755.00) scale(1,1.0)"  >40-22П-АР</text>
<text x="0" y="0" font-size="11.2" text-anchor="middle" fill="#111" transform="translate(1040.30,782.50) scale(1,1.0)"  >«Здание СТО», расположенное по адресу: Вологодская область,</text>
<text x="0" y="0" font-size="11.2" text-anchor="middle" fill="#111" transform="translate(1040.30,793.60) scale(1,1.0)"  >г. Череповец, ш. Кирилловское, кадастровый номер земельного</text>
<text x="0" y="0" font-size="11.2" text-anchor="middle" fill="#111" transform="translate(1040.30,804.90) scale(1,1.0)"  >участка: 35:21:0304001:67</text>
<text x="0" y="0" font-size="11.2" text-anchor="middle" fill="#111" transform="translate(964.50,842.00) scale(1,1.0)"  >ООО "Сириус"</text>
<text x="0" y="0" font-size="13.4" text-anchor="start" fill="#111" transform="translate(1071.60,828.50) scale(1,1.05)" textLength="45.90" lengthAdjust="spacingAndGlyphs" >Стадия</text>
<text x="0" y="0" font-size="13.4" text-anchor="start" fill="#111" transform="translate(1126.50,828.50) scale(1,1.05)" textLength="28.50" lengthAdjust="spacingAndGlyphs" >Лист</text>
<text x="0" y="0" font-size="13.4" text-anchor="start" fill="#111" transform="translate(1171.50,828.50) scale(1,1.05)"  >Листов</text>
<text x="0" y="0" font-size="12.9" text-anchor="start" fill="#111" transform="translate(1085.40,851.00) scale(1,1.05)" textLength="18.60" lengthAdjust="spacingAndGlyphs" >ЭП</text>
<text x="0" y="0" font-size="12.9" text-anchor="start" fill="#111" transform="translate(1132.50,851.00) scale(1,1.05)" textLength="14.10" lengthAdjust="spacingAndGlyphs" >14</text>
<text x="0" y="0" font-size="12.9" text-anchor="start" fill="#111" transform="translate(1188.00,851.00) scale(1,1.05)"  >16</text>
<text x="0" y="0" font-size="11" text-anchor="start" fill="#111" transform="translate(931.50,887.00) scale(1,1.0)" textLength="54.00" lengthAdjust="spacingAndGlyphs" >Разрез 1-1</text>
<text x="0" y="0" font-size="13.4" text-anchor="start" fill="#111" transform="translate(1107.00,887.00) scale(1,1.05)" textLength="89.40" lengthAdjust="spacingAndGlyphs" >ООО "Альянс"</text>
<path d="M771.6,836.7 L778,832.6 L784.8,828.6 L787.2,832.4 L791.5,828 L796.2,824.3" fill="none" stroke="#111" stroke-width="1.2" stroke-linejoin="round" stroke-linecap="round"/>
<path d="M796.2,824.3 C794,830 791,840 788.6,847.5 C787,850 783,852.5 780,851.5 C777.5,850 779.5,846 783,843.5 C786,841 789,839.8 791.5,838.5 M793.4,829.2 C792,836 790.5,842 789.6,848" fill="none" stroke="#111" stroke-width="1.1" stroke-linecap="round"/>
<path d="M796.5,836.8 C797.5,835.5 798.5,839 799,840 C800,838 801,837 802,838.5 C803,837.5 805,838 807,838.8" fill="none" stroke="#111" stroke-width="1.3" stroke-linecap="round"/>
<path d="M777.3,881.2 C782,876 788,869 794.3,863.2" fill="none" stroke="#111" stroke-width="2.0" stroke-linecap="round"/>
<path d="M791.5,866.5 C792.5,869 793,871 793.6,871.8 C795.5,869.5 797,868 798.5,868.9 C799.5,871 800,873 801,874.5 C805,871 811,867.5 816,866 C819,865 822,864.3 825,864.1" fill="none" stroke="#111" stroke-width="1.1" stroke-linecap="round"/>
<path d="M783,890 C776,891 776,884 782,880 C788,876 796,876 794,881 C792,886 784,891 780,889 C777,887 784,879 791,878 M781,886 C786,882 791,880 794,879 M786,892 C794,885 803,876 812,871.5 M789,892.5 C797,885 806,876 813.5,873 M792,891 C799,884 806,877 812,874.5 M785,888 C793,882 800,877 808,873 M794.5,884 L789,893.5 L785,900" fill="none" stroke="#444" stroke-width="0.75"/>
<line x1="113.00" y1="124.30" x2="151.00" y2="124.30" stroke="#8a8a8a" stroke-width="0.9" />
<line x1="151.00" y1="124.30" x2="151.00" y2="135.00" stroke="#555" stroke-width="0.8" />
<polyline points="147.80,129.00 151.00,135.00 154.20,129.00" fill="none" stroke="#1c1c1c" stroke-width="0.9" />
<line x1="145.50" y1="135.00" x2="156.50" y2="135.00" stroke="#1c1c1c" stroke-width="1.1" />
<text x="0" y="0" font-size="10.8" text-anchor="start" fill="#111" transform="translate(115.00,121.60) scale(1,1.06)" >+7.125</text>
<line x1="1040.50" y1="90.40" x2="1078.50" y2="90.40" stroke="#8a8a8a" stroke-width="0.9" />
<line x1="1040.50" y1="90.40" x2="1040.50" y2="100.80" stroke="#555" stroke-width="0.8" />
<polyline points="1037.30,94.80 1040.50,100.80 1043.70,94.80" fill="none" stroke="#1c1c1c" stroke-width="0.9" />
<line x1="1035.00" y1="100.80" x2="1046.00" y2="100.80" stroke="#1c1c1c" stroke-width="1.1" />
<text x="0" y="0" font-size="10.8" text-anchor="start" fill="#111" transform="translate(1042.90,87.70) scale(1,1.06)" >+8.200</text>
<line x1="1040.50" y1="184.40" x2="1078.50" y2="184.40" stroke="#8a8a8a" stroke-width="0.9" />
<line x1="1040.50" y1="184.40" x2="1040.50" y2="195.20" stroke="#555" stroke-width="0.8" />
<polyline points="1037.30,189.20 1040.50,195.20 1043.70,189.20" fill="none" stroke="#1c1c1c" stroke-width="0.9" />
<line x1="1035.00" y1="195.20" x2="1046.00" y2="195.20" stroke="#1c1c1c" stroke-width="1.1" />
<text x="0" y="0" font-size="10.8" text-anchor="start" fill="#111" transform="translate(1042.90,181.70) scale(1,1.06)" >+5.230</text>
<line x1="1040.50" y1="222.40" x2="1078.50" y2="222.40" stroke="#8a8a8a" stroke-width="0.9" />
<line x1="1040.50" y1="222.40" x2="1040.50" y2="232.80" stroke="#555" stroke-width="0.8" />
<polyline points="1037.30,226.80 1040.50,232.80 1043.70,226.80" fill="none" stroke="#1c1c1c" stroke-width="0.9" />
<line x1="1035.00" y1="232.80" x2="1046.00" y2="232.80" stroke="#1c1c1c" stroke-width="1.1" />
<text x="0" y="0" font-size="10.8" text-anchor="start" fill="#111" transform="translate(1042.90,219.70) scale(1,1.06)" >+4.030</text>
<line x1="108.70" y1="355.30" x2="150.70" y2="355.30" stroke="#8a8a8a" stroke-width="0.9" />
<line x1="150.70" y1="355.30" x2="150.70" y2="366.00" stroke="#555" stroke-width="0.8" />
<polyline points="147.50,360.00 150.70,366.00 153.90,360.00" fill="none" stroke="#1c1c1c" stroke-width="0.9" />
<line x1="145.20" y1="366.00" x2="156.20" y2="366.00" stroke="#1c1c1c" stroke-width="1.1" />
<text x="0" y="0" font-size="10.8" text-anchor="start" fill="#111" transform="translate(111.30,352.60) scale(1,1.06)" >Ур.зем.</text>
<line x1="1040.50" y1="355.30" x2="1082.50" y2="355.30" stroke="#8a8a8a" stroke-width="0.9" />
<line x1="1040.50" y1="355.30" x2="1040.50" y2="366.00" stroke="#555" stroke-width="0.8" />
<polyline points="1037.30,360.00 1040.50,366.00 1043.70,360.00" fill="none" stroke="#1c1c1c" stroke-width="0.9" />
<line x1="1035.00" y1="366.00" x2="1046.00" y2="366.00" stroke="#1c1c1c" stroke-width="1.1" />
<text x="0" y="0" font-size="10.8" text-anchor="start" fill="#111" transform="translate(1043.30,352.60) scale(1,1.06)" >Ур.зем.</text>
<line x1="523.20" y1="246.30" x2="561.20" y2="246.30" stroke="#8a8a8a" stroke-width="0.9" />
<line x1="523.20" y1="246.30" x2="523.20" y2="256.40" stroke="#555" stroke-width="0.8" />
<polyline points="520.00,250.40 523.20,256.40 526.40,250.40" fill="none" stroke="#1c1c1c" stroke-width="0.9" />
<text x="0" y="0" font-size="10.8" text-anchor="start" fill="#111" transform="translate(524.10,243.60) scale(1,1.06)" >+3.290</text>
<line x1="523.40" y1="350.40" x2="561.40" y2="350.40" stroke="#8a8a8a" stroke-width="0.9" />
<line x1="523.40" y1="350.40" x2="523.40" y2="361.00" stroke="#555" stroke-width="0.8" />
<polyline points="520.20,355.00 523.40,361.00 526.60,355.00" fill="none" stroke="#1c1c1c" stroke-width="0.9" />
<text x="0" y="0" font-size="10.8" text-anchor="start" fill="#111" transform="translate(530.50,347.70) scale(1,1.06)" >0.000</text>
<line x1="903.30" y1="289.30" x2="941.30" y2="289.30" stroke="#8a8a8a" stroke-width="0.9" />
<line x1="903.30" y1="289.30" x2="903.30" y2="300.00" stroke="#555" stroke-width="0.8" />
<polyline points="900.10,294.00 903.30,300.00 906.50,294.00" fill="none" stroke="#1c1c1c" stroke-width="0.9" />
<line x1="897.80" y1="300.00" x2="908.80" y2="300.00" stroke="#1c1c1c" stroke-width="1.1" />
<text x="0" y="0" font-size="10.8" text-anchor="start" fill="#111" transform="translate(905.50,286.60) scale(1,1.06)" >+1.930</text>
<line x1="903.30" y1="333.00" x2="941.30" y2="333.00" stroke="#8a8a8a" stroke-width="0.9" />
<line x1="903.30" y1="333.00" x2="903.30" y2="343.50" stroke="#555" stroke-width="0.8" />
<polyline points="900.10,337.50 903.30,343.50 906.50,337.50" fill="none" stroke="#1c1c1c" stroke-width="0.9" />
<line x1="897.80" y1="343.50" x2="908.80" y2="343.50" stroke="#1c1c1c" stroke-width="1.1" />
<text x="0" y="0" font-size="10.8" text-anchor="start" fill="#111" transform="translate(905.50,330.30) scale(1,1.06)" >+0.550</text>
<line x1="523.20" y1="284.60" x2="561.00" y2="284.60" stroke="#8a8a8a" stroke-width="0.9" />
<line x1="523.20" y1="262.00" x2="523.20" y2="284.60" stroke="#555" stroke-width="0.8" />
<polyline points="520.20,267.00 523.20,261.80 526.20,267.00" fill="none" stroke="#1c1c1c" stroke-width="0.9" />
<text x="0" y="0" font-size="10.8" text-anchor="start" fill="#111" transform="translate(524.50,281.30) scale(1,1.06)" >+3.150</text></svg></body></html>
